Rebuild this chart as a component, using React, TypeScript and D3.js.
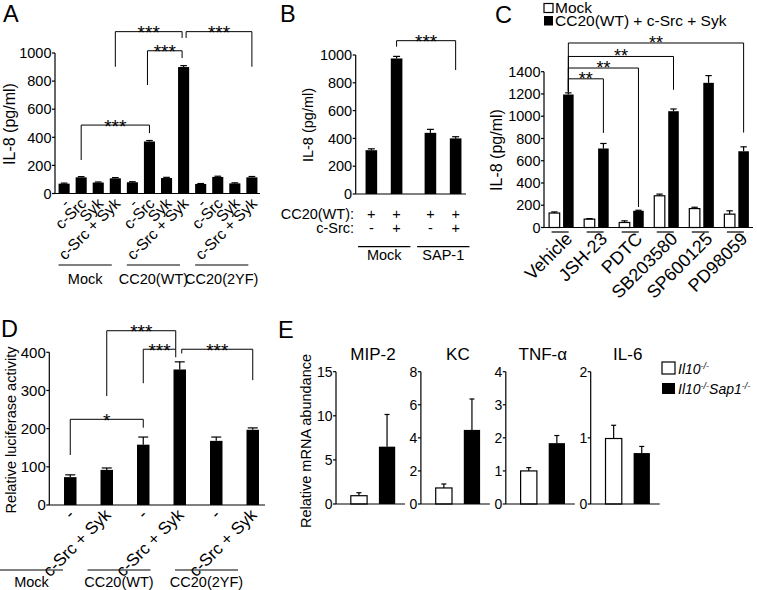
import React from "react";
import * as d3 from "d3";

const FONT = "'Liberation Sans', Arial, Helvetica, sans-serif";

// ---------- Panel A data ----------
const aGroups = ["Mock", "CC20(WT)", "CC20(2YF)"];
const aTreatments = ["-", "c-Src", "Syk", "c-Src + Syk"];
const aValues = [70, 115, 78, 108, 80, 370, 110, 900, 68, 118, 72, 115];
const aErrors = [4, 5, 4, 5, 4, 7, 5, 10, 3, 5, 4, 6];
const aTicks = [0, 200, 400, 600, 800, 1000];
const aBrackets = [
  { from: 1, to: 5, top: 487, left: 238, right: 430, label: "***", dl: 0, dr: 0 },
  { from: 3, to: 7, top: 1152, left: 902, right: 1107, label: "***", dl: 0, dr: -1.5 },
  { from: 5, to: 7, top: 1016, left: 772, right: 964, label: "***", dl: -2, dr: -1.5 },
  { from: 7, to: 11, top: 1152, left: 1107, right: 902, label: "***", dl: 2.5, dr: 0 },
];

// ---------- Panel B data ----------
const bGroups = ["Mock", "SAP-1"];
const bCC20 = ["+", "+", "+", "+"];
const bCSrc = ["-", "+", "-", "+"];
const bValues = [315, 975, 440, 400];
const bErrors = [10, 15, 25, 12];
const bTicks = [0, 200, 400, 600, 800, 1000];
const bBrackets = [{ from: 1, to: 3, top: 1103, left: 1060, right: 892, label: "***" }];

// ---------- Panel C data ----------
const cInhibitors = ["Vehicle", "JSH-23", "PDTC", "SB203580", "SP600125", "PD98059"];
const cMock = [130, 75, 45, 285, 170, 120];
const cMockErr = [10, 5, 15, 15, 12, 30];
const cStim = [1195, 710, 150, 1045, 1300, 685];
const cStimErr = [15, 45, 5, 20, 65, 40];
const cTicks = [0, 200, 400, 600, 800, 1000, 1200, 1400];
const cSeries = ["Mock", "CC20(WT) + c-Src + Syk"];
const cBrackets = [
  { to: 1, top: 1336, right: 850, label: "**" },
  { to: 2, top: 1433, right: 184, label: "**" },
  { to: 3, top: 1537, right: 1238, label: "**" },
  { to: 5, top: 1658, right: 853, label: "**" },
];
const cBracketLeft = 1220;

// ---------- Panel D data ----------
const dGroups = ["Mock", "CC20(WT)", "CC20(2YF)"];
const dTreatments = ["-", "c-Src + Syk"];
const dValues = [73, 92, 158, 355, 168, 197];
const dErrors = [6, 5, 20, 20, 10, 5];
const dTicks = [0, 100, 200, 300, 400];
const dBrackets = [
  { from: 0, to: 2, top: 224.5, left: 131, right: 202.5, label: "*", dl: 0, dr: 0 },
  { from: 1, to: 3, top: 456.5, left: 285.5, right: 408, label: "***", dl: 0, dr: -4 },
  { from: 2, to: 3, top: 408, left: 319, right: 387, label: "***", dl: 0, dr: -4 },
  { from: 3, to: 5, top: 408, left: 397, right: 327, label: "***", dl: 2, dr: 0 },
];

// ---------- Panel E data ----------
const eGenes = ["MIP-2", "KC", "TNF-α", "IL-6"];
const eMax = [15, 8, 4, 2];
const eTicks = [[0, 5, 10, 15], [0, 2, 4, 6, 8], [0, 1, 2, 3, 4], [0, 1, 2]];
const eWT = [0.94, 0.97, 1.0, 0.99];
const eWTErr = [0.34, 0.24, 0.1, 0.2];
const eKO = [6.5, 4.48, 1.84, 0.77];
const eKOErr = [3.65, 1.87, 0.23, 0.1];

const SW = 1.2;
const LETTER = 23.5;

function YAxis({ x, scale, ticks, fontSize = 14.5 }: any) {
  const r = scale.range();
  return (
    <g>
      <line x1={x} x2={x} y1={r[0]} y2={r[1]} stroke="#000" strokeWidth={SW} />
      {ticks.map((t: number) => (
        <g key={t}>
          <line x1={x - 3} x2={x} y1={scale(t)} y2={scale(t)} stroke="#000" strokeWidth={SW} />
          <text x={x - 3.5} y={scale(t)} dy="0.36em" textAnchor="end" fontSize={fontSize}>
            {t}
          </text>
        </g>
      ))}
    </g>
  );
}

function Bar({ x, w, y, y0, white }: any) {
  return (
    <rect
      x={x}
      y={y}
      width={w}
      height={Math.max(0, y0 - y)}
      fill={white ? "#fff" : "#000"}
      stroke="#000"
      strokeWidth={white ? SW : 0}
    />
  );
}

function Err({ cx, y1, y2, cap }: any) {
  return (
    <g stroke="#000" strokeWidth={SW}>
      <line x1={cx} x2={cx} y1={y1} y2={y2} />
      <line x1={cx - cap / 2} x2={cx + cap / 2} y1={y2} y2={y2} />
    </g>
  );
}

function Bracket({ x1, x2, top, y1, y2, label, fs = 19, off = 7.5 }: any) {
  return (
    <g>
      <path d={`M${x1},${y1}V${top}H${x2}V${y2}`} fill="none" stroke="#000" strokeWidth={1} />
      <text x={(x1 + x2) / 2} y={top + off} textAnchor="middle" fontSize={fs}>
        {label}
      </text>
    </g>
  );
}

function PanelA() {
  const y = d3.scaleLinear().domain([0, 1000]).range([193.5, 53]);
  const labels = aGroups.flatMap(() => aTreatments);
  const x = d3.scaleBand<number>().domain(d3.range(aValues.length)).range([56, 260]).paddingInner(0.35).paddingOuter(0.15);
  const bw = x.bandwidth();
  const cx = (i: number) => (x(i) as number) + bw / 2;
  return (
    <g>
      <text x={3} y={22} fontSize={LETTER}>A</text>
      <text transform={`translate(15,124) rotate(-90)`} textAnchor="middle" fontSize={16}>IL-8 (pg/ml)</text>
      {aValues.map((v, i) => (
        <g key={i}>
          <Bar x={x(i)} w={bw} y={y(v)} y0={y(0)} />
          <Err cx={cx(i)} y1={y(v)} y2={y(v + aErrors[i])} cap={bw * 0.6} />
        </g>
      ))}
      <line x1={55} x2={260} y1={y(0)} y2={y(0)} stroke="#000" strokeWidth={SW} />
      <YAxis x={55} scale={y} ticks={aTicks} />
      {labels.map((l, i) => (
        <text key={i} transform={`translate(${cx(i) + 6},${y(0) + 11}) rotate(-45)`} textAnchor="end" fontSize={15.5}>
          {l}
        </text>
      ))}
      {aGroups.map((g, gi) => {
        const x1 = x(gi * 4) as number;
        const x2 = (x(gi * 4 + 3) as number) + 2;
        return (
          <g key={g}>
            <line x1={x1} x2={x2} y1={265} y2={265} stroke="#000" strokeWidth={SW} />
            <text x={(x1 + x2) / 2} y={284} textAnchor="middle" fontSize={14.5}>{g}</text>
          </g>
        );
      })}
      {aBrackets.map((b, i) => (
        <Bracket key={i} x1={cx(b.from) + b.dl} x2={cx(b.to) + b.dr} top={y(b.top)} y1={y(b.left)} y2={y(b.right)} label={b.label} />
      ))}
    </g>
  );
}

function PanelB() {
  const y = d3.scaleLinear().domain([0, 1000]).range([194, 55]);
  const outer = d3.scaleBand<string>().domain(bGroups).range([362, 465]).paddingInner(0.376).paddingOuter(0.06);
  const inner = d3.scaleBand<number>().domain([0, 1]).range([0, outer.bandwidth()]).paddingInner(0.54).paddingOuter(0);
  const bw = inner.bandwidth();
  const bx = (i: number) => (outer(bGroups[Math.floor(i / 2)]) as number) + (inner(i % 2) as number);
  const cx = (i: number) => bx(i) + bw / 2;
  return (
    <g>
      <text x={280} y={21.5} fontSize={LETTER}>B</text>
      <text transform={`translate(313,125) rotate(-90)`} textAnchor="middle" fontSize={14.5}>IL-8 (pg/ml)</text>
      {bValues.map((v, i) => (
        <g key={i}>
          <Bar x={bx(i)} w={bw} y={y(v)} y0={y(0)} />
          <Err cx={cx(i)} y1={y(v)} y2={y(v + bErrors[i])} cap={bw * 0.6} />
        </g>
      ))}
      <line x1={355.7} x2={466} y1={y(0)} y2={y(0)} stroke="#000" strokeWidth={SW} />
      <YAxis x={355.7} scale={y} ticks={bTicks} />
      <text x={354} y={219} textAnchor="end" fontSize={14.5}>CC20(WT):</text>
      <text x={354} y={233} textAnchor="end" fontSize={14.5}>c-Src:</text>
      {bValues.map((_, i) => (
        <g key={i}>
          <text x={cx(i)} y={219} textAnchor="middle" fontSize={14.5}>{bCC20[i]}</text>
          <text x={cx(i)} y={233} textAnchor="middle" fontSize={14.5}>{bCSrc[i]}</text>
        </g>
      ))}
      {bGroups.map((g) => {
        const x1 = (outer(g) as number) - 7.5;
        const x2 = (outer(g) as number) + outer.bandwidth() + 8;
        return (
          <g key={g}>
            <line x1={x1} x2={x2} y1={246.7} y2={246.7} stroke="#000" strokeWidth={SW} />
            <text x={(x1 + x2) / 2} y={260} textAnchor="middle" fontSize={14.5}>{g}</text>
          </g>
        );
      })}
      {bBrackets.map((b, i) => (
        <Bracket key={i} x1={cx(b.from)} x2={cx(b.to)} top={y(b.top)} y1={y(b.left)} y2={y(b.right)} label={b.label} />
      ))}
    </g>
  );
}

function PanelC() {
  const y = d3.scaleLinear().domain([0, 1400]).range([227.5, 71.7]);
  const outer = d3.scaleBand<string>().domain(cInhibitors).range([545, 753]).paddingInner(0.3).paddingOuter(0.117);
  const inner = d3.scaleBand<number>().domain([0, 1]).range([0, outer.bandwidth()]).paddingInner(0.243).paddingOuter(0);
  const bw = inner.bandwidth();
  const gx = (i: number) => outer(cInhibitors[i]) as number;
  const bx = (i: number, s: number) => gx(i) + (inner(s) as number);
  const cx = (i: number, s: number) => bx(i, s) + bw / 2;
  return (
    <g>
      <text x={495} y={23} fontSize={LETTER}>C</text>
      <rect x={544} y={3.5} width={9} height={9} fill="#fff" stroke="#000" strokeWidth={SW} />
      <text x={555} y={13} fontSize={15.5}>{cSeries[0]}</text>
      <rect x={544} y={16} width={9} height={9.5} fill="#000" />
      <text x={555} y={26} fontSize={15.5}>{cSeries[1]}</text>
      <text transform={`translate(502,150) rotate(-90)`} textAnchor="middle" fontSize={16}>IL-8 (pg/ml)</text>
      {cInhibitors.map((name, i) => (
        <g key={name}>
          <Bar x={bx(i, 0)} w={bw} y={y(cMock[i])} y0={y(0)} white />
          <Err cx={cx(i, 0)} y1={y(cMock[i])} y2={y(cMock[i] + cMockErr[i])} cap={bw * 0.6} />
          <Bar x={bx(i, 1)} w={bw} y={y(cStim[i])} y0={y(0)} />
          <Err cx={cx(i, 1)} y1={y(cStim[i])} y2={y(cStim[i] + cStimErr[i])} cap={bw * 0.6} />
          <line x1={gx(i) + 2.5} x2={gx(i) + outer.bandwidth() - 5} y1={232} y2={232} stroke="#000" strokeWidth={SW} />
          <text transform={`translate(${gx(i) + outer.bandwidth() / 2 + 12},${240}) rotate(-45)`} textAnchor="end" fontSize={18}>
            {name}
          </text>
        </g>
      ))}
      <line x1={544} x2={753} y1={y(0)} y2={y(0)} stroke="#000" strokeWidth={SW} />
      <YAxis x={544} scale={y} ticks={cTicks} />
      {cBrackets.map((b, i) => (
        <Bracket key={i} x1={cx(0, 1)} x2={cx(b.to, 1)} top={y(b.top)} y1={y(cBracketLeft)} y2={y(b.right)} label={b.label} fs={18} off={6} />
      ))}
    </g>
  );
}

function PanelD() {
  const y = d3.scaleLinear().domain([0, 400]).range([505, 352.3]);
  const x = d3.scaleBand<number>().domain(d3.range(dValues.length)).range([50, 273]).paddingInner(0.658).paddingOuter(0.384);
  const bw = x.bandwidth();
  const cx = (i: number) => (x(i) as number) + bw / 2;
  const labels = dGroups.flatMap(() => dTreatments);
  const gscale = d3.scaleBand<string>().domain(dGroups).range([0, 238]).paddingInner(0.28).paddingOuter(0);
  return (
    <g>
      <text x={1} y={337} fontSize={LETTER}>D</text>
      <text transform={`translate(16,430) rotate(-90)`} textAnchor="middle" fontSize={14.5}>Relative luciferase activity</text>
      {dValues.map((v, i) => (
        <g key={i}>
          <Bar x={x(i)} w={bw} y={y(v)} y0={y(0)} />
          <Err cx={cx(i)} y1={y(v)} y2={y(v + dErrors[i])} cap={bw * 0.8} />
        </g>
      ))}
      <line x1={49.3} x2={265} y1={y(0)} y2={y(0)} stroke="#000" strokeWidth={SW} />
      <YAxis x={49.3} scale={y} ticks={dTicks} fontSize={15} />
      {labels.map((l, i) => (
        <text key={i} transform={`translate(${cx(i) + 5},${y(0) + 11}) rotate(-45)`} textAnchor="end" fontSize={17}>
          {l}
        </text>
      ))}
      {dGroups.map((g) => {
        const x1 = gscale(g) as number;
        const x2 = x1 + gscale.bandwidth();
        return (
          <g key={g}>
            <line x1={x1} x2={x2} y1={570} y2={570} stroke="#000" strokeWidth={SW} />
            <text x={(x1 + x2) / 2} y={587} textAnchor="middle" fontSize={14.5}>{g}</text>
          </g>
        );
      })}
      {dBrackets.map((b, i) => (
        <Bracket key={i} x1={cx(b.from) + b.dl} x2={cx(b.to) + b.dr} top={y(b.top)} y1={y(b.left)} y2={y(b.right)} label={b.label} />
      ))}
    </g>
  );
}

function PanelE() {
  const px = d3.scaleBand<string>().domain(eGenes).range([336, 336 + 4 * 84.9]).paddingInner(0).paddingOuter(0);
  const inner = d3.scaleBand<number>().domain([0, 1]).range([12, 62]).paddingInner(0.42).paddingOuter(0.1);
  const bw = inner.bandwidth();
  return (
    <g>
      <text x={278} y={338} fontSize={LETTER}>E</text>
      <text transform={`translate(311,441) rotate(-90)`} textAnchor="middle" fontSize={14.5}>Relative mRNA abundance</text>
      {eGenes.map((g, i) => {
        const ax = px(g) as number;
        const y = d3.scaleLinear().domain([0, eMax[i]]).range([504, 371.7]);
        const vals = [eWT[i], eKO[i]];
        const errs = [eWTErr[i], eKOErr[i]];
        return (
          <g key={g}>
            <text x={ax + 37} y={360} textAnchor="middle" fontSize={17}>{g}</text>
            {vals.map((v, s) => {
              const bx = ax + (inner(s) as number);
              return (
                <g key={s}>
                  <Bar x={bx} w={bw} y={y(v)} y0={y(0)} white={s === 0} />
                  <Err cx={bx + bw / 2} y1={y(v)} y2={y(v + errs[s])} cap={5} />
                </g>
              );
            })}
            <line x1={ax} x2={ax + 69} y1={y(0)} y2={y(0)} stroke="#000" strokeWidth={SW} />
            <YAxis x={ax} scale={y} ticks={eTicks[i]} fontSize={14} />
          </g>
        );
      })}
      <rect x={662} y={362} width={13} height={12} fill="#fff" stroke="#000" strokeWidth={SW} />
      <text x={678} y={373.5} fontSize={14} fontStyle="italic">
        Il10<tspan fontSize={9} dy={-5}>-/-</tspan>
      </text>
      <rect x={662} y={383} width={13} height={11} fill="#000" />
      <text x={678} y={393.5} fontSize={14} fontStyle="italic">
        Il10<tspan fontSize={9} dy={-5}>-/-</tspan>
        <tspan dy={5}>Sap1</tspan>
        <tspan fontSize={9} dy={-5}>-/-</tspan>
      </text>
    </g>
  );
}

export default function App() {
  return (
    <svg
      width={757}
      height={590}
      viewBox="0 0 757 590"
      style={{ position: "absolute", left: 0, top: 0, background: "#fff" }}
      fontFamily={FONT}
    >
      <rect width={757} height={590} fill="#fff" />
      <PanelA />
      <PanelB />
      <PanelC />
      <PanelD />
      <PanelE />
    </svg>
  );
}
